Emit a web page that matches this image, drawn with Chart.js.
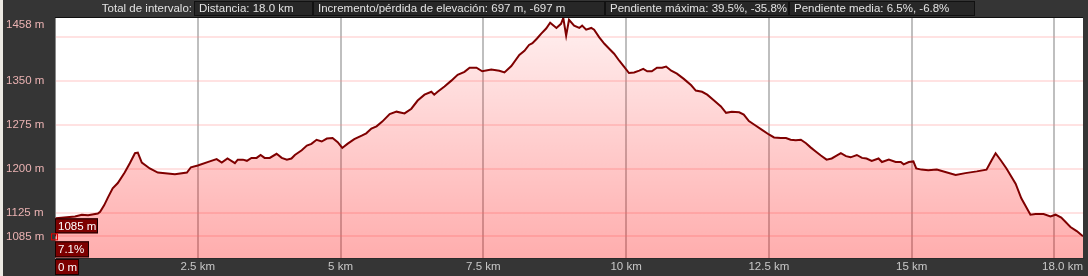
<!DOCTYPE html>
<html>
<head>
<meta charset="utf-8">
<script src="https://cdn.jsdelivr.net/npm/chart.js@4.4.1/dist/chart.umd.min.js"></script>
<style>
  html, body { margin: 0; padding: 0; background: #353535; overflow: hidden; }
  #wrap { width: 1088px; height: 276px; position: relative; }
</style>
</head>
<body>
<div id="wrap"><canvas id="perfil"></canvas></div>
<script>
const distKm = [
  0.00, 0.03, 0.35, 0.47, 0.58, 0.75, 0.79, 0.86, 0.93, 1.01, 1.10, 1.22, 1.31, 1.40, 1.45, 1.52,
  1.66, 1.80, 2.10, 2.31, 2.38, 2.50, 2.71, 2.83, 2.92, 3.02, 3.15, 3.20, 3.29, 3.36, 3.44, 3.53,
  3.60, 3.67, 3.76, 3.88, 3.97, 4.06, 4.14, 4.20, 4.32, 4.41, 4.49, 4.58, 4.67, 4.76, 4.86, 4.95,
  5.03, 5.12, 5.24, 5.37, 5.45, 5.54, 5.63, 5.73, 5.86, 5.98, 6.12, 6.24, 6.35, 6.47, 6.59, 6.64,
  6.70, 6.82, 6.94, 7.05, 7.17, 7.26, 7.38, 7.48, 7.64, 7.78, 7.87, 7.99, 8.13, 8.22, 8.30, 8.36,
  8.44, 8.51, 8.60, 8.67, 8.78, 8.86, 8.90, 8.95, 9.00, 9.09, 9.18, 9.23, 9.30, 9.39, 9.44, 9.53,
  9.62, 9.70, 9.79, 9.88, 9.97, 10.05, 10.14, 10.23, 10.30, 10.37, 10.45, 10.54, 10.63, 10.70, 10.79, 10.89,
  11.01, 11.14, 11.22, 11.33, 11.42, 11.54, 11.66, 11.75, 11.85, 11.98, 12.06, 12.15, 12.24, 12.38, 12.50, 12.59,
  12.71, 12.80, 12.88, 12.97, 13.06, 13.15, 13.23, 13.32, 13.41, 13.51, 13.60, 13.67, 13.76, 13.85, 13.93, 14.04,
  14.13, 14.21, 14.30, 14.42, 14.48, 14.60, 14.72, 14.81, 14.86, 14.95, 15.03, 15.08, 15.17, 15.29, 15.44, 15.59,
  15.77, 15.94, 16.14, 16.31, 16.40, 16.47, 16.56, 16.66, 16.82, 16.92, 17.08, 17.17, 17.31, 17.43, 17.52, 17.62,
  17.78, 17.89, 18.00
];
const elevM = [
  1085, 1116, 1119, 1122, 1121, 1124, 1127, 1138, 1152, 1167, 1176, 1194, 1210, 1227, 1228, 1211,
  1201, 1194, 1191, 1194, 1203, 1206, 1213, 1217, 1211, 1218, 1210, 1216, 1216, 1214, 1219, 1219,
  1224, 1219, 1219, 1226, 1219, 1216, 1218, 1224, 1232, 1240, 1243, 1250, 1247, 1252, 1253, 1246,
  1236, 1243, 1251, 1257, 1261, 1269, 1273, 1281, 1294, 1298, 1295, 1303, 1317, 1327, 1332, 1327,
  1332, 1341, 1351, 1361, 1366, 1373, 1373, 1367, 1370, 1368, 1365, 1376, 1395, 1402, 1412, 1415,
  1423, 1431, 1440, 1450, 1441, 1448, 1458, 1428, 1455, 1445, 1441, 1445, 1438, 1441, 1438, 1425,
  1414, 1406, 1397, 1385, 1374, 1364, 1365, 1368, 1371, 1367, 1367, 1373, 1373, 1375, 1368, 1363,
  1354, 1343, 1334, 1332, 1327, 1317, 1307, 1296, 1298, 1297, 1293, 1282, 1276, 1267, 1259, 1254,
  1253, 1253, 1250, 1249, 1250, 1244, 1237, 1230, 1223, 1216, 1218, 1222, 1227, 1222, 1220, 1224,
  1219, 1218, 1214, 1218, 1212, 1216, 1212, 1212, 1208, 1212, 1213, 1201, 1199, 1198, 1199, 1195,
  1190, 1193, 1196, 1199, 1215, 1227, 1215, 1201, 1175, 1150, 1122, 1123, 1123, 1119, 1122, 1117,
  1101, 1094, 1085
];

// ejes
const yGridVals = [1085, 1125, 1200, 1275, 1350, 1425, 1458];
const yLabelVals = [1458, 1350, 1275, 1200, 1125, 1085];
const xGridVals = [0, 2.5, 5, 7.5, 10, 12.5, 15, 17.5];
const xLabelVals = [2.5, 5, 7.5, 10, 12.5, 15];
const xLabels = ['2.5 km', '5 km', '7.5 km', '10 km', '12.5 km', '15 km'];
const xEndLabel = '18.0 km';

// cabecera y cursor
const resumenTitulo = 'Total de intervalo:';
const resumenTextos = [
  'Distancia: 18.0 km',
  'Incremento/pérdida de elevación: 697 m, -697 m',
  'Pendiente máxima: 39.5%, -35.8%',
  'Pendiente media: 6.5%, -6.8%'
];
const cursorPendiente = '7.1%';

const FUENTE = '11.5px "Liberation Sans", Arial, sans-serif';

// fondo, cabecera y area blanca
const fondoPlugin = {
  id: 'fondo',
  beforeDraw(chart) {
    const { ctx, chartArea: a, width, height } = chart;
    ctx.save();
    ctx.fillStyle = '#353535';
    ctx.fillRect(0, 0, width, height);
    ctx.fillStyle = '#ece9e3';
    ctx.fillRect(0, 0, 3, height);
    ctx.fillStyle = '#ffffff';
    ctx.fillRect(a.left, a.top, a.right - a.left, a.bottom - a.top);

    // cabecera
    ctx.font = FUENTE;
    ctx.textBaseline = 'middle';
    ctx.fillStyle = '#e2e2e2';
    ctx.textAlign = 'right';
    ctx.fillText(resumenTitulo, 192, 9);
    const cajas = [[194, 313], [313, 605], [605, 789], [789, 975]];
    ctx.textAlign = 'left';
    cajas.forEach((c, i) => {
      ctx.fillStyle = '#272727';
      ctx.fillRect(c[0], 1, c[1] - c[0], 15);
      ctx.strokeStyle = '#111';
      ctx.lineWidth = 1;
      ctx.strokeRect(c[0] + 0.5, 1.5, c[1] - c[0] - 1, 14);
      ctx.fillStyle = '#e2e2e2';
      ctx.fillText(resumenTextos[i], c[0] + 5, 9);
    });
    ctx.restore();
  }
};

function cajaRoja(ctx, x, y, w, h, texto) {
  ctx.fillStyle = '#7d0000';
  ctx.fillRect(x, y, w, h);
  ctx.strokeStyle = '#1a0000';
  ctx.lineWidth = 1;
  ctx.strokeRect(x + 0.5, y + 0.5, w - 1, h - 1);
  ctx.fillStyle = '#ffffff';
  ctx.textAlign = 'left';
  ctx.textBaseline = 'middle';
  ctx.fillText(texto, x + 3, y + h / 2 + 0.5);
}

// etiquetas y cursor
const etiquetasPlugin = {
  id: 'etiquetas',
  afterDraw(chart) {
    const { ctx, chartArea: a } = chart;
    const xs = chart.scales.x, ys = chart.scales.y;
    ctx.save();
    // borde superior
    ctx.strokeStyle = '#111';
    ctx.lineWidth = 1;
    ctx.beginPath();
    ctx.moveTo(a.left, a.top - 0.5);
    ctx.lineTo(a.right, a.top - 0.5);
    ctx.stroke();

    ctx.font = FUENTE;
    ctx.textBaseline = 'middle';
    ctx.textAlign = 'left';
    ctx.fillStyle = '#eab2b2';
    yLabelVals.forEach(v => {
      let py = ys.getPixelForValue(v);
      if (py < a.top + 7) py = a.top + 7;
      ctx.fillText(v + ' m', 6, py);
    });

    ctx.fillStyle = '#c8c8c8';
    ctx.textAlign = 'center';
    xLabelVals.forEach((v, i) => {
      ctx.fillText(xLabels[i], xs.getPixelForValue(v), a.bottom + 9);
    });
    ctx.textAlign = 'right';
    ctx.fillText(xEndLabel, a.right, a.bottom + 9);

    // cursor al inicio
    const px = xs.getPixelForValue(distKm[0]);
    const py = ys.getPixelForValue(elevM[0]);
    cajaRoja(ctx, px, py - 18, 43, 15, elevM[0] + ' m');
    cajaRoja(ctx, px, py + 5, 34, 16, cursorPendiente);
    cajaRoja(ctx, px, a.bottom + 1, 24, 16, '0 m');
    ctx.strokeStyle = '#e00000';
    ctx.lineWidth = 1;
    ctx.strokeRect(px - 3.5, py - 2.5, 6, 6);
    ctx.restore();
  }
};

const ctx = document.getElementById('perfil').getContext('2d');
const chart = new Chart(ctx, {
  type: 'line',
  data: {
    datasets: [{
      data: distKm.map((d, i) => ({ x: d, y: elevM[i] })),
      borderColor: '#7f0000',
      borderWidth: 2,
      pointRadius: 0,
      tension: 0,
      fill: 'start',
      backgroundColor: (c) => {
        const area = c.chart.chartArea;
        if (!area) return 'rgba(255,0,0,0.2)';
        const g = c.chart.ctx.createLinearGradient(0, area.top, 0, area.bottom);
        g.addColorStop(0, 'rgba(255,0,0,0.06)');
        g.addColorStop(1, 'rgba(255,0,0,0.32)');
        return g;
      }
    }]
  },
  options: {
    responsive: true,
    maintainAspectRatio: false,
    devicePixelRatio: 1,
    animation: false,
    layout: { padding: { top: 18, right: 5, left: 0, bottom: 0 } },
    plugins: { legend: { display: false }, tooltip: { enabled: false } },
    scales: {
      x: {
        type: 'linear',
        min: 0,
        max: 18,
        afterBuildTicks: s => { s.ticks = xGridVals.map(v => ({ value: v })); },
        afterFit: s => { s.height = 18; },
        ticks: { display: false },
        grid: {
          drawTicks: false,
          lineWidth: 2,
          color: c => (c.tick && c.tick.value === 0) ? 'rgba(0,0,0,0)' : 'rgba(175,175,175,0.8)'
        },
        border: { color: '#2a2a2a', width: 1 }
      },
      y: {
        min: 1048,
        max: 1458,
        afterBuildTicks: s => { s.ticks = yGridVals.map(v => ({ value: v })); },
        afterFit: s => { s.width = 55; },
        ticks: { display: false },
        grid: {
          drawTicks: false,
          lineWidth: 2,
          color: c => (c.tick && c.tick.value === 1458) ? 'rgba(0,0,0,0)' : 'rgba(255,140,140,0.25)'
        },
        border: { color: '#8a8a8a', width: 1 }
      }
    }
  },
  plugins: [fondoPlugin, etiquetasPlugin]
});
</script>
</body>
</html>
